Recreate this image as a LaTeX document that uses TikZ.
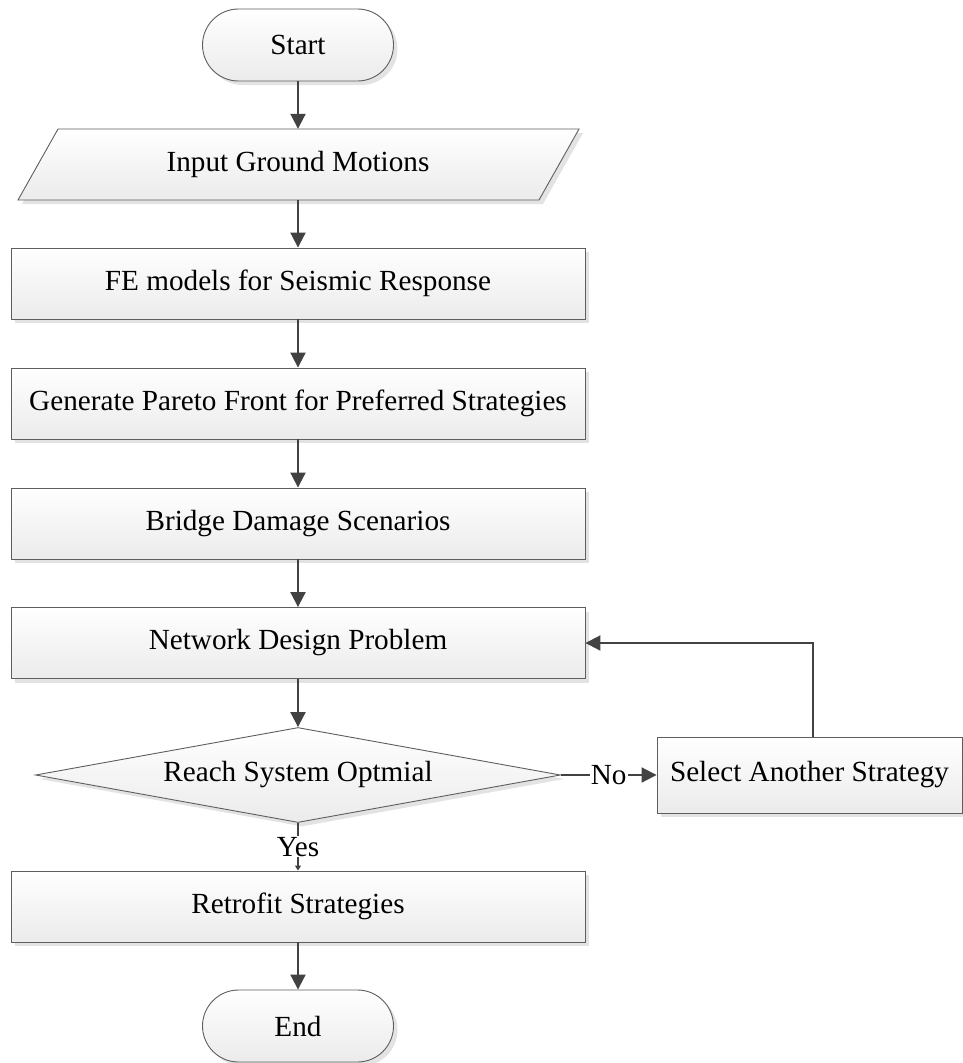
\documentclass[tikz,border=0pt]{standalone}
\usepackage{fontspec}
\setmainfont{Liberation Serif}
\usetikzlibrary{arrows.meta,shadows,shapes.geometric}

\definecolor{edgegray}{HTML}{5E5E5E}
\definecolor{flowgray}{HTML}{424242}
\definecolor{shadegray}{HTML}{EBEBEB}
\definecolor{shadowgray}{HTML}{E3E3E3}

\begin{document}
\begin{tikzpicture}[x=1pt,y=-1pt,
  every node/.style={font=\fontsize{29.2}{33}\selectfont},
  shapefill/.style={draw=edgegray, line width=0.9pt, top color=white, bottom color=shadegray},
  boxshadow/.style={drop shadow={shadow xshift=4pt, shadow yshift=-4pt, fill=shadowgray, opacity=1}},
  procbox/.style={shapefill, boxshadow, rectangle, minimum width=574pt, minimum height=71pt, inner sep=0pt},
  termbox/.style={shapefill, boxshadow, rectangle, rounded corners=36pt, minimum width=191pt, minimum height=72pt, inner sep=0pt},
  decbox/.style={shapefill, boxshadow, diamond, aspect=5.5, minimum width=525pt, minimum height=95pt, inner sep=0pt},
  flow/.style={draw=flowgray, line width=2pt, -{Triangle[length=15pt,width=15pt]}},
  thinflow/.style={draw=flowgray, line width=1.6pt, -{Triangle[length=5pt,width=6pt]}},
  edgelabel/.style={fill=white, inner sep=1pt}
]
\useasboundingbox (0,0) rectangle (963,1063);

% start terminal
\node[termbox] (start) at (298,45) {Start};

% input parallelogram: shadow, body, then a text node carrying the name
\fill[shadowgray] (62,133) -- (583,133) -- (543,204) -- (22,204) -- cycle;
\draw[shapefill] (58,129) -- (579,129) -- (539,200) -- (18,200) -- cycle;
\node[rectangle, minimum width=522pt, minimum height=71pt, inner sep=0pt] (inp) at (298,164.5) {Input Ground Motions};

% process steps
\node[procbox] (fe)     at (298,283.5) {FE models for Seismic Response};
\node[procbox] (gen)    at (298,403.5) {Generate Pareto Front for Preferred Strategies};
\node[procbox] (bridge) at (298,523.5) {Bridge Damage Scenarios};
\node[procbox] (net)    at (298,643)   {Network Design Problem};

% decision and alternative branch
\node[decbox] (dec) at (298,775) {Reach System Optmial};
\node[shapefill, boxshadow, rectangle, minimum width=305pt, minimum height=76pt, inner sep=0pt] (sel) at (809.5,775) {Select Another Strategy};

% final steps
\node[procbox] (retro) at (298,906.5) {Retrofit Strategies};
\node[termbox] (end) at (298,1026) {End};

% connectors
\draw[flow] (start) -- (inp);
\draw[flow] (inp) -- (fe);
\draw[flow] (fe) -- (gen);
\draw[flow] (gen) -- (bridge);
\draw[flow] (bridge) -- (net);
\draw[flow] (net) -- (dec);
\draw[flow] (dec.east) -- node[edgelabel] {No} (sel.west);
\draw[flow] ([xshift=3.5pt]sel.north) |- (net.east);
\draw[thinflow] (dec.south) -- node[edgelabel] {Yes} (retro.north);
\draw[flow] (retro) -- (end);
\end{tikzpicture}
\end{document}
